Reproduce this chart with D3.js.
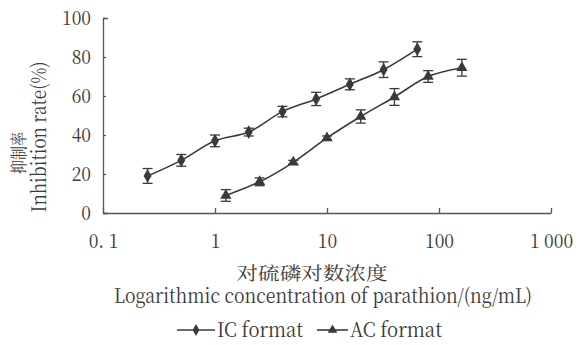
<!DOCTYPE html>
<html>
<head>
<meta charset="utf-8">
<script src="https://cdn.jsdelivr.net/npm/d3@7"></script>
<style>
  body { margin: 0; background: #fff; }
  svg text { font-family: "Noto Serif CJK SC", serif; fill: #3a3a3a; }
</style>
</head>
<body>
<div id="container"></div>
<script>
// data
var icConc = [0.25, 0.5, 1, 2, 4, 8, 16, 32, 64];
var icRate = [19, 27, 37, 41.5, 52, 58.5, 66, 73.5, 84];
var icErr  = [3.8, 3, 3, 2, 2.7, 3.4, 2.8, 4, 3.8];

var acConc = [1.25, 2.5, 5, 10, 20, 40, 80, 160];
var acRate = [9, 16, 26, 38.5, 49.5, 59.5, 70, 74.5];
var acErr  = [3, 2, 1, 1, 3.4, 4.3, 3, 4.3];

var xTicks = [0.1, 1, 10, 100, 1000];
var xTickLabels = ["0. 1", "1", "10", "100", "1 000"];
var yTicks = [0, 20, 40, 60, 80, 100];

var ink = "#3a3a3a";

var svg = d3.select("div#container")
  .append("svg")
  .attr("width", 585)
  .attr("height", 345);

// the picture's text is a little narrow: keep the height, squeeze the width
function squeeze(sel, fs, width) {
  sel.each(function() {
    var t = d3.select(this).style("font-size", fs + "px");
    var w = width || this.getComputedTextLength() * 0.88;
    t.attr("textLength", w).attr("lengthAdjust", "spacingAndGlyphs");
  });
}

var x = d3.scaleLog().domain([0.1, 1000]).range([103, 551]);
var y = d3.scaleLinear().domain([0, 100]).range([213, 18]);

// axes
var xAxis = svg.append("g")
  .attr("transform", "translate(0,213)")
  .call(d3.axisBottom(x)
    .tickValues(xTicks)
    .tickFormat(function(d, i) { return xTickLabels[i]; })
    .tickSizeInner(-5)
    .tickSizeOuter(0)
    .tickPadding(21));

var yAxis = svg.append("g")
  .attr("transform", "translate(103,0)")
  .call(d3.axisLeft(y)
    .tickValues(yTicks)
    .tickSizeInner(-3)
    .tickSizeOuter(-5)
    .tickPadding(12));

[xAxis, yAxis].forEach(function(a) {
  a.attr("font-family", null).attr("font-size", null);
  a.selectAll("path, line").attr("stroke", "#555").attr("stroke-width", 1.3);
  a.selectAll("text").attr("fill", ink);
  squeeze(a.selectAll("text"), 20);
});

// series
var series = [
  {conc: icConc, rate: icRate, err: icErr, symbol: d3.symbolDiamond, size: 55},
  {conc: acConc, rate: acRate, err: acErr, symbol: d3.symbolTriangle, size: 55}
];

var line = d3.line()
  .x(function(d) { return x(d[0]); })
  .y(function(d) { return y(d[1]); })
  .curve(d3.curveCatmullRom);

series.forEach(function(s) {
  var pts = s.conc.map(function(c, i) { return [c, s.rate[i], s.err[i]]; });
  var g = svg.append("g");

  g.append("path")
    .datum(pts)
    .attr("fill", "none")
    .attr("stroke", ink)
    .attr("stroke-width", 1.6)
    .attr("d", line);

  var eb = g.selectAll(".eb").data(pts).enter().append("g");
  eb.append("line")
    .attr("x1", function(d) { return x(d[0]); })
    .attr("x2", function(d) { return x(d[0]); })
    .attr("y1", function(d) { return y(d[1] - d[2]); })
    .attr("y2", function(d) { return y(d[1] + d[2]); });
  eb.append("line")
    .attr("x1", function(d) { return x(d[0]) - 5; })
    .attr("x2", function(d) { return x(d[0]) + 5; })
    .attr("y1", function(d) { return y(d[1] + d[2]); })
    .attr("y2", function(d) { return y(d[1] + d[2]); });
  eb.append("line")
    .attr("x1", function(d) { return x(d[0]) - 5; })
    .attr("x2", function(d) { return x(d[0]) + 5; })
    .attr("y1", function(d) { return y(d[1] - d[2]); })
    .attr("y2", function(d) { return y(d[1] - d[2]); });
  eb.selectAll("line").attr("stroke", ink).attr("stroke-width", 1.3);

  g.selectAll(".pt").data(pts).enter().append("path")
    .attr("transform", function(d) { return "translate(" + x(d[0]) + "," + y(d[1]) + ")"; })
    .attr("d", d3.symbol().type(s.symbol).size(s.size))
    .attr("fill", ink);
});

// axis titles
var yCn = svg.append("text")
  .attr("transform", "translate(25,153) rotate(-90)")
  .attr("text-anchor", "middle")
  .text("抑制率");
squeeze(yCn, 17, 42);

var yEn = svg.append("text")
  .attr("transform", "translate(46,137) rotate(-90)")
  .attr("text-anchor", "middle")
  .text("Inhibition rate(%)");
squeeze(yEn, 20, 151);

var xCn = svg.append("text")
  .attr("x", 312)
  .attr("y", 280)
  .attr("text-anchor", "middle")
  .text("对硫磷对数浓度");
squeeze(xCn, 18, 151);

var xEn = svg.append("text")
  .attr("x", 323)
  .attr("y", 303)
  .attr("text-anchor", "middle")
  .text("Logarithmic concentration of parathion/(ng/mL)");
squeeze(xEn, 20, 418);

// legend
var legend = [
  {label: "IC format", symbol: d3.symbolDiamond, x0: 177, x1: 215, w: 86},
  {label: "AC format", symbol: d3.symbolTriangle, x0: 317, x1: 348, w: 92}
];
legend.forEach(function(l) {
  var g = svg.append("g");
  g.append("line")
    .attr("x1", l.x0).attr("x2", l.x1)
    .attr("y1", 330).attr("y2", 330)
    .attr("stroke", ink).attr("stroke-width", 1.6);
  g.append("path")
    .attr("transform", "translate(" + (l.x0 + l.x1) / 2 + ",330)")
    .attr("d", d3.symbol().type(l.symbol).size(40))
    .attr("fill", ink);
  var t = g.append("text")
    .attr("x", l.x1 + 2)
    .attr("y", 337)
    .text(l.label);
  squeeze(t, 20, l.w);
});
</script>
</body>
</html>
